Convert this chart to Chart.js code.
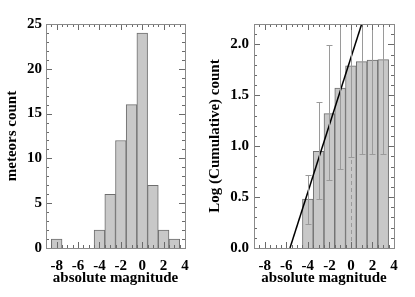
<!DOCTYPE html>
<html>
<head>
<meta charset="utf-8">
<script src="https://cdn.jsdelivr.net/npm/chart.js@4.4.1/dist/chart.umd.min.js"></script>
<style>
    body { margin: 0; background: #fff; width: 415px; height: 297px; overflow: hidden; position: relative; }
    canvas { position: absolute; top: 0; }
    #leftChart { left: 0; }
    #rightChart { left: 205px; }
</style>
</head>
<body>
<canvas id="leftChart" width="205" height="297"></canvas>
<canvas id="rightChart" width="210" height="297"></canvas>
<script>
// histogram of absolute magnitudes
const LEFT_MAG = [-8, -4, -3, -2, -1, 0, 1, 2, 3];
const LEFT_COUNT = [1, 2, 6, 12, 16, 24, 7, 2, 1];

// log of cumulative count, with error range
const RIGHT_MAG = [-4, -3, -2, -1, 0, 1, 2, 3];
const LOG_CUM = [0.48, 0.95, 1.32, 1.57, 1.79, 1.83, 1.845, 1.85];
const ERR_LO = [0.24, 0.48, 0.67, 0.78, 0.895, 0.92, 0.92, 0.925];
const ERR_HI = [0.72, 1.43, 1.99, 2.5, 2.5, 2.5, 2.5, 2.5];

// straight fit line end points
const FIT_X = [-5.66, 1.0];
const FIT_Y = [0, 2.2];

const DASH_AT = 0;

const X_RANGE = [-9, 4];
const LEFT_Y_MAX = 25;
const RIGHT_Y_MAX = 2.2;

const COLORS = {
    barFill: "#c8c8c8",
    barEdge: "#6e6e6e",
    frame: "#8a8a8a",
    tick: "#6a6a6a",
    err: "#9a9a9a",
    text: "#000",
};

const FONT = { family: "'Liberation Serif', 'DejaVu Serif', serif", size: 15, weight: "bold" };

// draws the box round the plot and the small inward ticks on all four sides
const frameTicks = {
    id: "frameTicks",
    afterDatasetsDraw(chart, args, opts) {
        const { ctx, chartArea: a, scales: { x, y } } = chart;
        ctx.save();
        ctx.strokeStyle = COLORS.tick;
        ctx.lineWidth = 1;
        ctx.beginPath();
        for (let v = X_RANGE[0]; v <= X_RANGE[1] + 1e-9; v += opts.xMinor) {
            const px = Math.round(x.getPixelForValue(v)) + 0.5;
            const len = Math.abs(v / opts.xMajor - Math.round(v / opts.xMajor)) < 1e-6 ? 6 : 3;
            ctx.moveTo(px, a.bottom); ctx.lineTo(px, a.bottom - len);
            ctx.moveTo(px, a.top); ctx.lineTo(px, a.top + len);
        }
        for (let v = 0; v <= opts.yMax + 1e-9; v += opts.yMinor) {
            const py = Math.round(y.getPixelForValue(v)) + 0.5;
            const len = Math.abs(v / opts.yMajor - Math.round(v / opts.yMajor)) < 1e-6 ? 6 : 3;
            ctx.moveTo(a.left, py); ctx.lineTo(a.left + len, py);
            ctx.moveTo(a.right, py); ctx.lineTo(a.right - len, py);
        }
        ctx.stroke();
        ctx.strokeStyle = COLORS.frame;
        ctx.strokeRect(Math.round(a.left) + 0.5, Math.round(a.top) + 0.5,
            Math.round(a.right - a.left), Math.round(a.bottom - a.top));
        ctx.restore();
    }
};

// error bars and the dashed line at magnitude 0
const errorBars = {
    id: "errorBars",
    afterDatasetsDraw(chart) {
        const { ctx, chartArea: a, scales: { x, y } } = chart;
        ctx.save();
        ctx.beginPath();
        ctx.rect(a.left, a.top, a.right - a.left, a.bottom - a.top);
        ctx.clip();
        ctx.strokeStyle = COLORS.err;
        ctx.lineWidth = 1;

        const dx = Math.round(x.getPixelForValue(DASH_AT)) + 0.5;
        ctx.setLineDash([4, 3]);
        ctx.beginPath();
        ctx.moveTo(dx, a.bottom); ctx.lineTo(dx, a.top);
        ctx.stroke();
        ctx.setLineDash([]);

        ctx.beginPath();
        RIGHT_MAG.forEach((m, i) => {
            const px = Math.round(x.getPixelForValue(m)) + 0.5;
            const lo = Math.round(y.getPixelForValue(ERR_LO[i])) + 0.5;
            const hi = Math.round(y.getPixelForValue(ERR_HI[i])) + 0.5;
            ctx.moveTo(px, lo); ctx.lineTo(px, hi);
            ctx.moveTo(px - 3, lo); ctx.lineTo(px + 3, lo);
            ctx.moveTo(px - 3, hi); ctx.lineTo(px + 3, hi);
        });
        ctx.stroke();
        ctx.restore();
    }
};

function xScale() {
    return {
        type: "linear",
        min: X_RANGE[0],
        max: X_RANGE[1],
        offset: false,
        grid: { display: false, drawTicks: false },
        border: { display: false },
        ticks: { stepSize: 2, includeBounds: false, color: COLORS.text, font: FONT, padding: 9, maxRotation: 0, autoSkip: false },
        title: { display: true, text: "absolute magnitude", color: COLORS.text, font: FONT, padding: { top: 0, bottom: 10 } },
        afterFit: s => { s.height = 49; }
    };
}

function yScale(max, step, width, pad, title, titlePad, fmt) {
    return {
        min: 0,
        max: max,
        grid: { display: false, drawTicks: false },
        border: { display: false },
        ticks: { stepSize: step, includeBounds: false, color: COLORS.text, font: FONT, padding: pad, callback: fmt },
        title: { display: true, text: title, color: COLORS.text, font: FONT, padding: { top: titlePad, bottom: 0 } },
        afterFit: s => { s.width = width; }
    };
}

const barStyle = {
    backgroundColor: COLORS.barFill,
    borderColor: COLORS.barEdge,
    borderWidth: 1,
    barPercentage: 1,
    categoryPercentage: 1,
};

new Chart(document.getElementById("leftChart"), {
    type: "bar",
    data: {
        datasets: [{
            ...barStyle,
            data: LEFT_MAG.map((m, i) => ({ x: m, y: LEFT_COUNT[i] })),
        }]
    },
    options: {
        responsive: false,
        animation: false,
        layout: { padding: { top: 24, right: 20, left: 0, bottom: 0 } },
        plugins: {
            legend: { display: false },
            tooltip: { enabled: false },
            frameTicks: { xMinor: 0.5, xMajor: 2, yMinor: 1, yMajor: 5, yMax: LEFT_Y_MAX }
        },
        scales: {
            x: xScale(),
            y: yScale(LEFT_Y_MAX, 5, 46, 4, "meteors count", 3, v => v)
        }
    },
    plugins: [frameTicks]
});

new Chart(document.getElementById("rightChart"), {
    type: "bar",
    data: {
        datasets: [{
            ...barStyle,
            data: RIGHT_MAG.map((m, i) => ({ x: m, y: LOG_CUM[i] })),
            order: 2
        }, {
            type: "line",
            data: FIT_X.map((m, i) => ({ x: m, y: FIT_Y[i] })),
            borderColor: "#000",
            borderWidth: 1.5,
            pointRadius: 0,
            fill: false,
            order: 1
        }]
    },
    options: {
        responsive: false,
        animation: false,
        layout: { padding: { top: 24, right: 21, left: 0, bottom: 0 } },
        plugins: {
            legend: { display: false },
            tooltip: { enabled: false },
            frameTicks: { xMinor: 0.5, xMajor: 2, yMinor: 0.1, yMajor: 0.5, yMax: RIGHT_Y_MAX }
        },
        scales: {
            x: xScale(),
            y: yScale(RIGHT_Y_MAX, 0.5, 49, 5, "Log (Cumulative) count", 1, v => v.toFixed(1))
        }
    },
    plugins: [errorBars, frameTicks]
});
</script>
</body>
</html>
